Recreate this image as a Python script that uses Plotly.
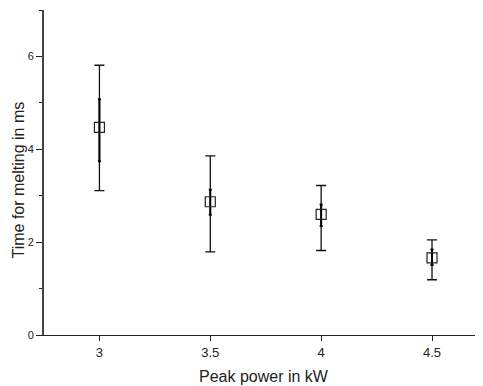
import plotly.graph_objects as go

power = [3, 3.5, 4, 4.5]
time_ms = [4.47, 2.87, 2.60, 1.66]
outer_hi = [5.81, 3.86, 3.22, 2.05]
outer_lo = [3.11, 1.79, 1.82, 1.19]
inner_hi = [5.08, 3.13, 2.81, 1.84]
inner_lo = [3.74, 2.59, 2.35, 1.51]
x_ticks = [3, 3.5, 4, 4.5]
x_tick_text = ["3", "3.5", "4", "4.5"]
y_ticks = [0, 2, 4, 6]

up_o = [h - t for h, t in zip(outer_hi, time_ms)]
dn_o = [t - l for l, t in zip(outer_lo, time_ms)]
up_i = [h - t for h, t in zip(inner_hi, time_ms)]
dn_i = [t - l for l, t in zip(inner_lo, time_ms)]

fig = go.Figure()
fig.add_trace(go.Scatter(
    x=power, y=time_ms, mode="markers", marker=dict(size=1, opacity=0),
    error_y=dict(type="data", symmetric=False, array=up_o, arrayminus=dn_o,
                 color="#111111", thickness=1.3, width=5),
    showlegend=False, hoverinfo="skip"))
fig.add_trace(go.Scatter(
    x=power, y=time_ms, mode="markers", marker=dict(size=1, opacity=0),
    error_y=dict(type="data", symmetric=False, array=up_i, arrayminus=dn_i,
                 color="#000000", thickness=2.0, width=1.5),
    showlegend=False, hoverinfo="skip"))
fig.add_trace(go.Scatter(
    x=power, y=time_ms, mode="markers",
    marker=dict(symbol="square-open", size=10, color="#222222", line=dict(width=1.2)),
    showlegend=False))

font = "Liberation Sans, Arial, sans-serif"
# page body has an 8px default margin, so the figure is 8px smaller
fig.update_layout(
    width=475, height=378,
    margin=dict(l=36, r=0, t=2, b=51, autoexpand=False),
    paper_bgcolor="white", plot_bgcolor="white",
    font=dict(family=font, color="#222222"),
    xaxis=dict(range=[2.75, 4.73], showline=True, linecolor="#222222", linewidth=1.2,
               ticks="outside", ticklen=5, tickwidth=1.2, tickcolor="#222222",
               tickvals=x_ticks, ticktext=x_tick_text, tickfont=dict(size=13),
               showgrid=False, zeroline=False, automargin=False),
    yaxis=dict(range=[0, 7], showline=True, linecolor="#444444", linewidth=2,
               ticks="outside", ticklen=6, tickwidth=1.2, tickcolor="#222222",
               tickvals=y_ticks, tickfont=dict(size=11),
               minor=dict(tickvals=[1, 3, 5, 7], ticks="outside", ticklen=3,
                          tickwidth=1.2, tickcolor="#222222", showgrid=False),
               showgrid=False, zeroline=False, automargin=False),
    annotations=[
        dict(text="Peak power in kW", xref="paper", yref="paper", x=0.5, y=0,
             xanchor="center", yanchor="middle", yshift=-41, showarrow=False,
             font=dict(size=16, family=font, color="#222222")),
        dict(text="Time for melting in ms", xref="paper", yref="paper", x=0, y=0.5,
             xanchor="center", yanchor="middle", xshift=-26, yshift=-8, textangle=-90,
             showarrow=False, font=dict(size=16, family=font, color="#222222")),
    ],
)
fig.write_html("out.html")
